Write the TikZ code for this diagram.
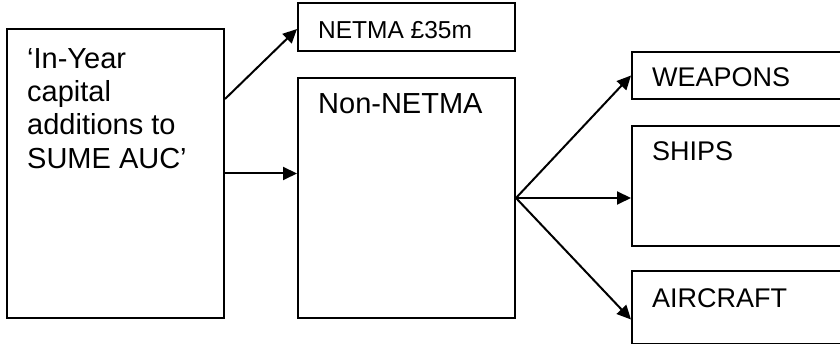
\documentclass[tikz,border=0pt]{standalone}
\usepackage{fontspec}
\setmainfont{Liberation Sans}
\usetikzlibrary{positioning,arrows.meta}

\begin{document}
\begin{tikzpicture}[
    x=1pt, y=1pt,
    box/.style={
        draw,
        line width=2pt,
        inner sep=0pt,
        minimum width=217pt
    },
    boxtext/.style={
        anchor=north west,
        inner sep=0pt,
        align=left,
        label distance=0pt,
        xshift=21pt,
        yshift=-16pt
    },
    bigfont/.style={font=\fontsize{29}{33.3}\selectfont},
    midfont/.style={font=\fontsize{27}{31}\selectfont},
    arrow/.style={-{Triangle[length=14pt,width=13pt]}, line width=2pt}
]
\useasboundingbox (0,0) rectangle (840,344);

\node[box, minimum height=289pt,
    label={[boxtext, bigfont, yshift=-4pt]north west:{`In-Year\\capital\\additions to\\SUME AUC'}}]
    (inyear) at (115.5,170.5) {};

\node[box, minimum height=240pt, right=72pt of inyear.south east, anchor=south west,
    label={[boxtext, bigfont]north west:{Non-NETMA}}]
    (nonnetma) {};

\node[box, minimum height=48pt, above=25pt of nonnetma,
    label={[boxtext, font=\fontsize{24.5}{28}\selectfont, yshift=-3pt]north west:{NETMA £35m}}]
    (netma) {};

\node[box, minimum width=218pt, minimum height=120pt,
    label={[boxtext, midfont]north west:{SHIPS}}]
    (ships) at (741,158) {};

\node[box, minimum width=218pt, minimum height=47pt, above=25pt of ships,
    label={[boxtext, midfont]north west:{WEAPONS}}]
    (weapons) {};

\node[box, minimum width=218pt, minimum height=73pt, below=23pt of ships,
    label={[boxtext, midfont, yshift=-2pt]north west:{AIRCRAFT}}]
    (aircraft) {};

% from the left box
\draw[arrow] ([yshift=-71pt]inyear.north east) -- ([yshift=-2pt]netma.west);
\draw[arrow] (inyear.east) -- (inyear.east -| nonnetma.west);

% split of Non-NETMA
\draw[arrow] (nonnetma.east) -- (weapons.west);
\draw[arrow] (nonnetma.east) -- (nonnetma.east -| ships.west);
\draw[arrow] (nonnetma.east) -- ([yshift=-12pt]aircraft.west);

\end{tikzpicture}
\end{document}
